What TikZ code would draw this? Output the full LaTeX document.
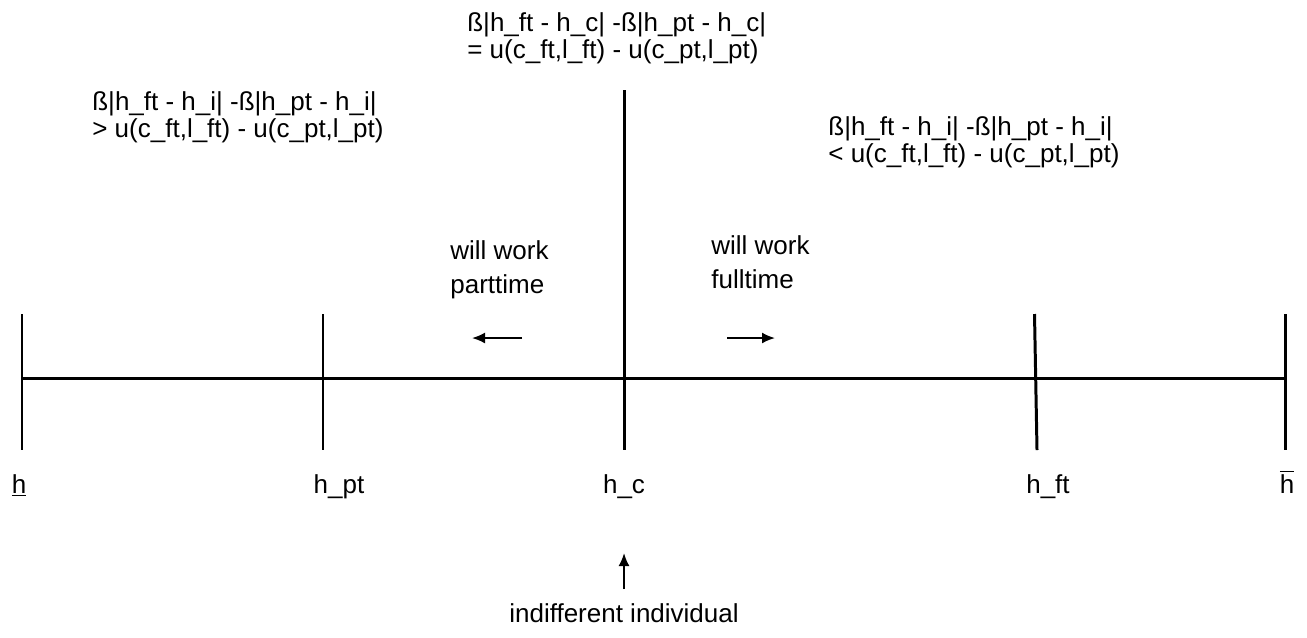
\documentclass[tikz,border=0pt]{standalone}
\usepackage{fontspec}
\setmainfont{Liberation Sans}
\usepackage{tikz}
\usetikzlibrary{arrows.meta,positioning,calc}
\tikzset{
  axisline/.style={line width=1.7pt, draw=black},
  tickline/.style={line width=1.7pt, draw=black},
  dirarrow/.style={-{Latex[length=2.6mm, width=2.2mm]}, line width=1.1pt, draw=black},
  condtext/.style={align=left, font=\fontsize{14.8}{15.2}\selectfont, inner sep=0pt, anchor=base west},
  notetext/.style={align=left, font=\fontsize{14.8}{19.3}\selectfont, inner sep=0pt, anchor=base west},
  ticklabel/.style={font=\fontsize{14.8}{15.2}\selectfont, inner sep=0pt, anchor=base}
}

\begin{document}
\begin{tikzpicture}[x=0.02cm, y=-0.02cm]
  \useasboundingbox (0,0) rectangle (1307,637);
  % tick positions on the axis
  \coordinate (lowtop) at (22,314);   \coordinate (lowbot) at (22,450);
  \coordinate (pttop) at (323,314);   \coordinate (ptbot) at (323,450);
  \coordinate (ctop) at (624,90);     \coordinate (cbot) at (624,450);
  \coordinate (fttop) at (1034.5,314); \coordinate (ftbot) at (1037,450);
  \coordinate (hightop) at (1285,314); \coordinate (highbot) at (1285,450);
  \coordinate (axl) at (22,378);      \coordinate (axr) at (1285,378);
  \draw[axisline] (axl) -- (axr);
  \draw[tickline] (lowtop) -- (lowbot);
  \draw[tickline] (pttop) -- (ptbot);
  \draw[tickline] (ctop) -- (cbot);
  \draw[tickline] (fttop) -- (ftbot);
  \draw[tickline] (hightop) -- (highbot);
  % labels under the axis
  \node[ticklabel] (lowlab) at (19,493) {\underline{h}};
  \node[ticklabel] (ptlab) at (339,493) {h\_pt};
  \node[ticklabel] (clab) at (624,493) {h\_c};
  \node[ticklabel] (ftlab) at (1048,493) {h\_ft};
  \node[ticklabel] (highlab) at (1287,493) {$\overline{\mbox{h}}$};
  % conditions
  \node[condtext] (midcond) at (467,58) {ß|h\_ft - h\_c| -ß|h\_pt - h\_c|\\= u(c\_ft,l\_ft) - u(c\_pt,l\_pt)};
  \node[condtext] (leftcond) at (92,137) {ß|h\_ft - h\_i| -ß|h\_pt - h\_i|\\> u(c\_ft,l\_ft) - u(c\_pt,l\_pt)};
  \node[condtext] (rightcond) at (828,162) {ß|h\_ft - h\_i| -ß|h\_pt - h\_i|\\< u(c\_ft,l\_ft) - u(c\_pt,l\_pt)};
  \node[notetext] (ptnote) at (450,293) {will work\\parttime};
  \node[notetext] (ftnote) at (711,288) {will work\\fulltime};
  \coordinate (ptfrom) at (522,338); \coordinate (ptto) at (472,338);
  \coordinate (ftfrom) at (727,338); \coordinate (ftto) at (775,338);
  \draw[dirarrow] (ptfrom) -- (ptto);
  \draw[dirarrow] (ftfrom) -- (ftto);
  \node[ticklabel] (indiff) at (624,622) {indifferent individual};
  \coordinate (upfrom) at (624,589);
  \draw[dirarrow] (upfrom) -- ($(upfrom)+(0,-36)$);
\end{tikzpicture}
\end{document}
